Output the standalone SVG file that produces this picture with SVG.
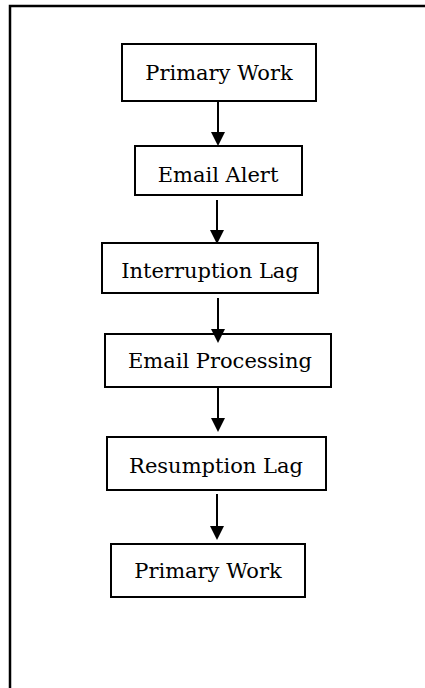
<svg xmlns="http://www.w3.org/2000/svg" width="425" height="688" viewBox="0 0 425 688">
  <defs>
    <style>
      .box { fill: #fff; stroke: #000; stroke-width: 2; }
      .frame { fill: none; stroke: #000; stroke-width: 2.5; }
      .label { font-family: "DejaVu Serif", "Liberation Serif", serif; font-size: 21px; fill: #000; text-anchor: middle; }
      .link { stroke: #000; stroke-width: 2; fill: none; }
      .head { fill: #000; }
    </style>
  </defs>
  <rect width="425" height="688" fill="#fff"/>
  <!-- outer frame: top and left edges -->
  <path class="frame" d="M10,688 V6 H425"/>

  <g id="primary-work-1">
    <rect class="box" x="122" y="44" width="194" height="57"/>
    <text class="label" x="219" y="80">Primary Work</text>
  </g>
  <g id="email-alert">
    <rect class="box" x="135" y="146" width="167" height="49"/>
    <text class="label" x="218" y="182">Email Alert</text>
  </g>
  <g id="interruption-lag">
    <rect class="box" x="102" y="243" width="216" height="50"/>
    <text class="label" x="210" y="278">Interruption Lag</text>
  </g>
  <g id="email-processing">
    <rect class="box" x="105" y="334" width="226" height="53"/>
    <text class="label" x="220" y="368">Email Processing</text>
  </g>
  <g id="resumption-lag">
    <rect class="box" x="107" y="437" width="219" height="53"/>
    <text class="label" x="216" y="473">Resumption Lag</text>
  </g>
  <g id="primary-work-2">
    <rect class="box" x="111" y="544" width="194" height="53"/>
    <text class="label" x="208" y="578">Primary Work</text>
  </g>

  <g id="connectors">
    <line class="link" x1="218" y1="101" x2="218" y2="134"/>
    <path class="head" d="M211,132 L225,132 L218,146 Z"/>
    <line class="link" x1="217" y1="200" x2="217" y2="232"/>
    <path class="head" d="M210,230 L224,230 L217,244 Z"/>
    <line class="link" x1="218" y1="298" x2="218" y2="331"/>
    <path class="head" d="M211,329 L225,329 L218,343 Z"/>
    <line class="link" x1="218" y1="387" x2="218" y2="420"/>
    <path class="head" d="M211,418 L225,418 L218,432 Z"/>
    <line class="link" x1="217" y1="494" x2="217" y2="528"/>
    <path class="head" d="M210,526 L224,526 L217,540 Z"/>
  </g>
</svg>
